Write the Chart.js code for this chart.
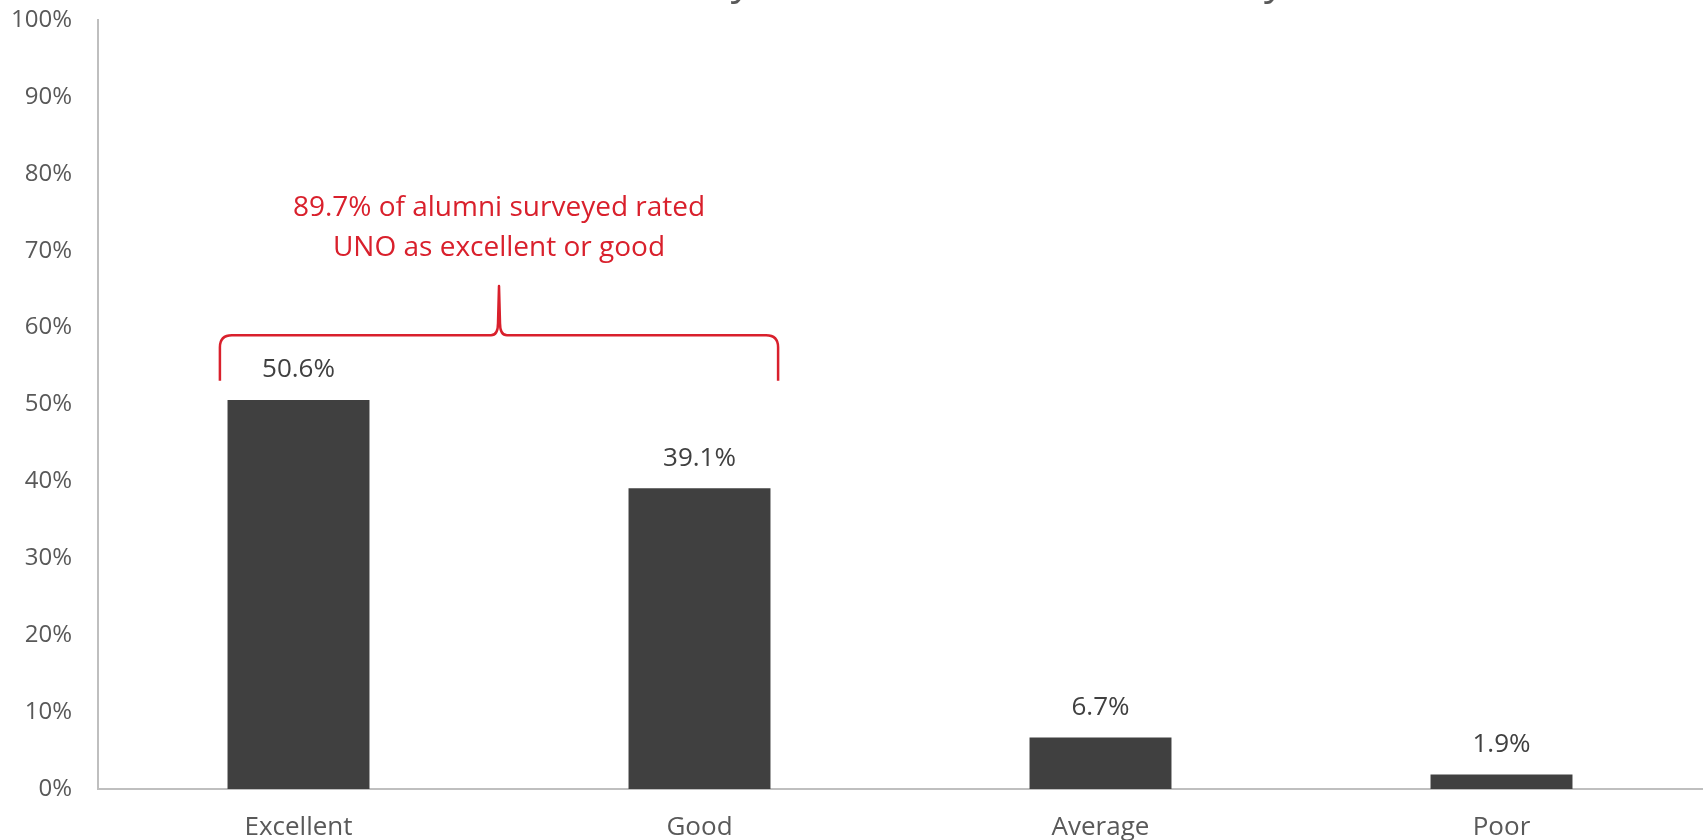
<!DOCTYPE html>
<html>
<head>
<meta charset="utf-8">
<script src="https://cdn.jsdelivr.net/npm/chart.js@4/dist/chart.umd.min.js"></script>
<style>
  html, body { margin: 0; padding: 0; background: #ffffff; }
  #wrap { width: 1704px; height: 840px; position: relative; }
</style>
</head>
<body>
<div id="wrap"><canvas id="c" width="1704" height="840"></canvas></div>
<script>
// ---- data ----
const categories = ["Excellent", "Good", "Average", "Poor"];
const values = [50.6, 39.1, 6.7, 1.9];
const yTickMin = 0;
const yTickMax = 100;
const yTickStep = 10;
const titleText = "Overall, how would you rate UNO as the school you attended?";
const noteLines = ["89.7% of alumni surveyed rated", "UNO as excellent or good"];
const bracketFrom = 0;   // category index where bracket starts
const bracketTo = 1;     // category index where bracket ends

const FONT = "'Open Sans', 'Noto Sans', sans-serif";
const RED = '#d9202c';

const overlay = {
  id: 'overlay',
  afterDatasetsDraw(chart) {
    const ctx = chart.ctx;
    const xs = chart.scales.x, ys = chart.scales.y;
    const meta = chart.getDatasetMeta(0);
    ctx.save();
    // data labels
    ctx.font = '26px ' + FONT;
    ctx.fillStyle = '#404040';
    ctx.textAlign = 'center';
    ctx.textBaseline = 'middle';
    meta.data.forEach((bar, i) => {
      ctx.fillText(values[i].toFixed(1) + '%', bar.x, bar.y - 30);
    });
    // bracket
    const catW = xs.getPixelForValue(1) - xs.getPixelForValue(0);
    const left = xs.getPixelForValue(bracketFrom) - 0.196 * catW;
    const right = xs.getPixelForValue(bracketTo) + 0.196 * catW;
    const mid = (left + right) / 2;
    const legBottom = ys.getPixelForValue(53.1);
    const hy = ys.getPixelForValue(59.0);
    const peak = ys.getPixelForValue(65.4);
    const r = 12;
    ctx.strokeStyle = RED;
    ctx.lineWidth = 2.5;
    ctx.lineJoin = 'round';
    ctx.beginPath();
    ctx.moveTo(left, legBottom);
    ctx.lineTo(left, hy + r);
    ctx.quadraticCurveTo(left, hy, left + r, hy);
    ctx.lineTo(mid - 8, hy);
    ctx.quadraticCurveTo(mid - 1, hy, mid - 1, hy - 12);
    ctx.lineTo(mid, peak);
    ctx.lineTo(mid + 1, hy - 12);
    ctx.quadraticCurveTo(mid + 1, hy, mid + 8, hy);
    ctx.lineTo(right - r, hy);
    ctx.quadraticCurveTo(right, hy, right, hy + r);
    ctx.lineTo(right, legBottom);
    ctx.stroke();
    // note text
    ctx.fillStyle = RED;
    ctx.font = '28px ' + FONT;
    ctx.fillText(noteLines[0], mid, ys.getPixelForValue(75.5));
    ctx.fillText(noteLines[1], mid, ys.getPixelForValue(70.3));
    // title (cut off at top edge)
    ctx.fillStyle = '#595959';
    ctx.font = '41px ' + FONT;
    ctx.textBaseline = 'alphabetic';
    ctx.fillText(titleText, 945, -6);
    ctx.restore();
  }
};

new Chart(document.getElementById('c'), {
  type: 'bar',
  data: {
    labels: categories,
    datasets: [{
      data: values,
      backgroundColor: '#404040',
      borderWidth: 0,
      categoryPercentage: 1.0,
      barPercentage: 0.354
    }]
  },
  options: {
    responsive: false,
    animation: false,
    events: [],
    layout: { padding: { top: 20, right: 2, left: 0, bottom: 0 }, autoPadding: false },
    plugins: {
      legend: { display: false },
      title: { display: false },
      tooltip: { enabled: false }
    },
    scales: {
      x: {
        grid: { display: false, drawTicks: false },
        border: { display: true, color: '#bfbfbf', width: 2 },
        ticks: { color: '#595959', font: { family: FONT, size: 26 }, padding: 23 },
        afterFit(s) { s.height = 51; s.paddingLeft = 0; s.paddingRight = 0; }
      },
      y: {
        min: yTickMin,
        max: yTickMax,
        grid: { display: false, drawTicks: false },
        border: { display: true, color: '#bfbfbf', width: 2 },
        ticks: {
          stepSize: yTickStep,
          color: '#595959',
          font: { family: FONT, size: 24 },
          padding: 26,
          callback: v => v + '%'
        },
        afterFit(s) { s.width = 98; s.paddingTop = 0; s.paddingBottom = 0; }
      }
    }
  },
  plugins: [overlay]
});
</script>
</body>
</html>
